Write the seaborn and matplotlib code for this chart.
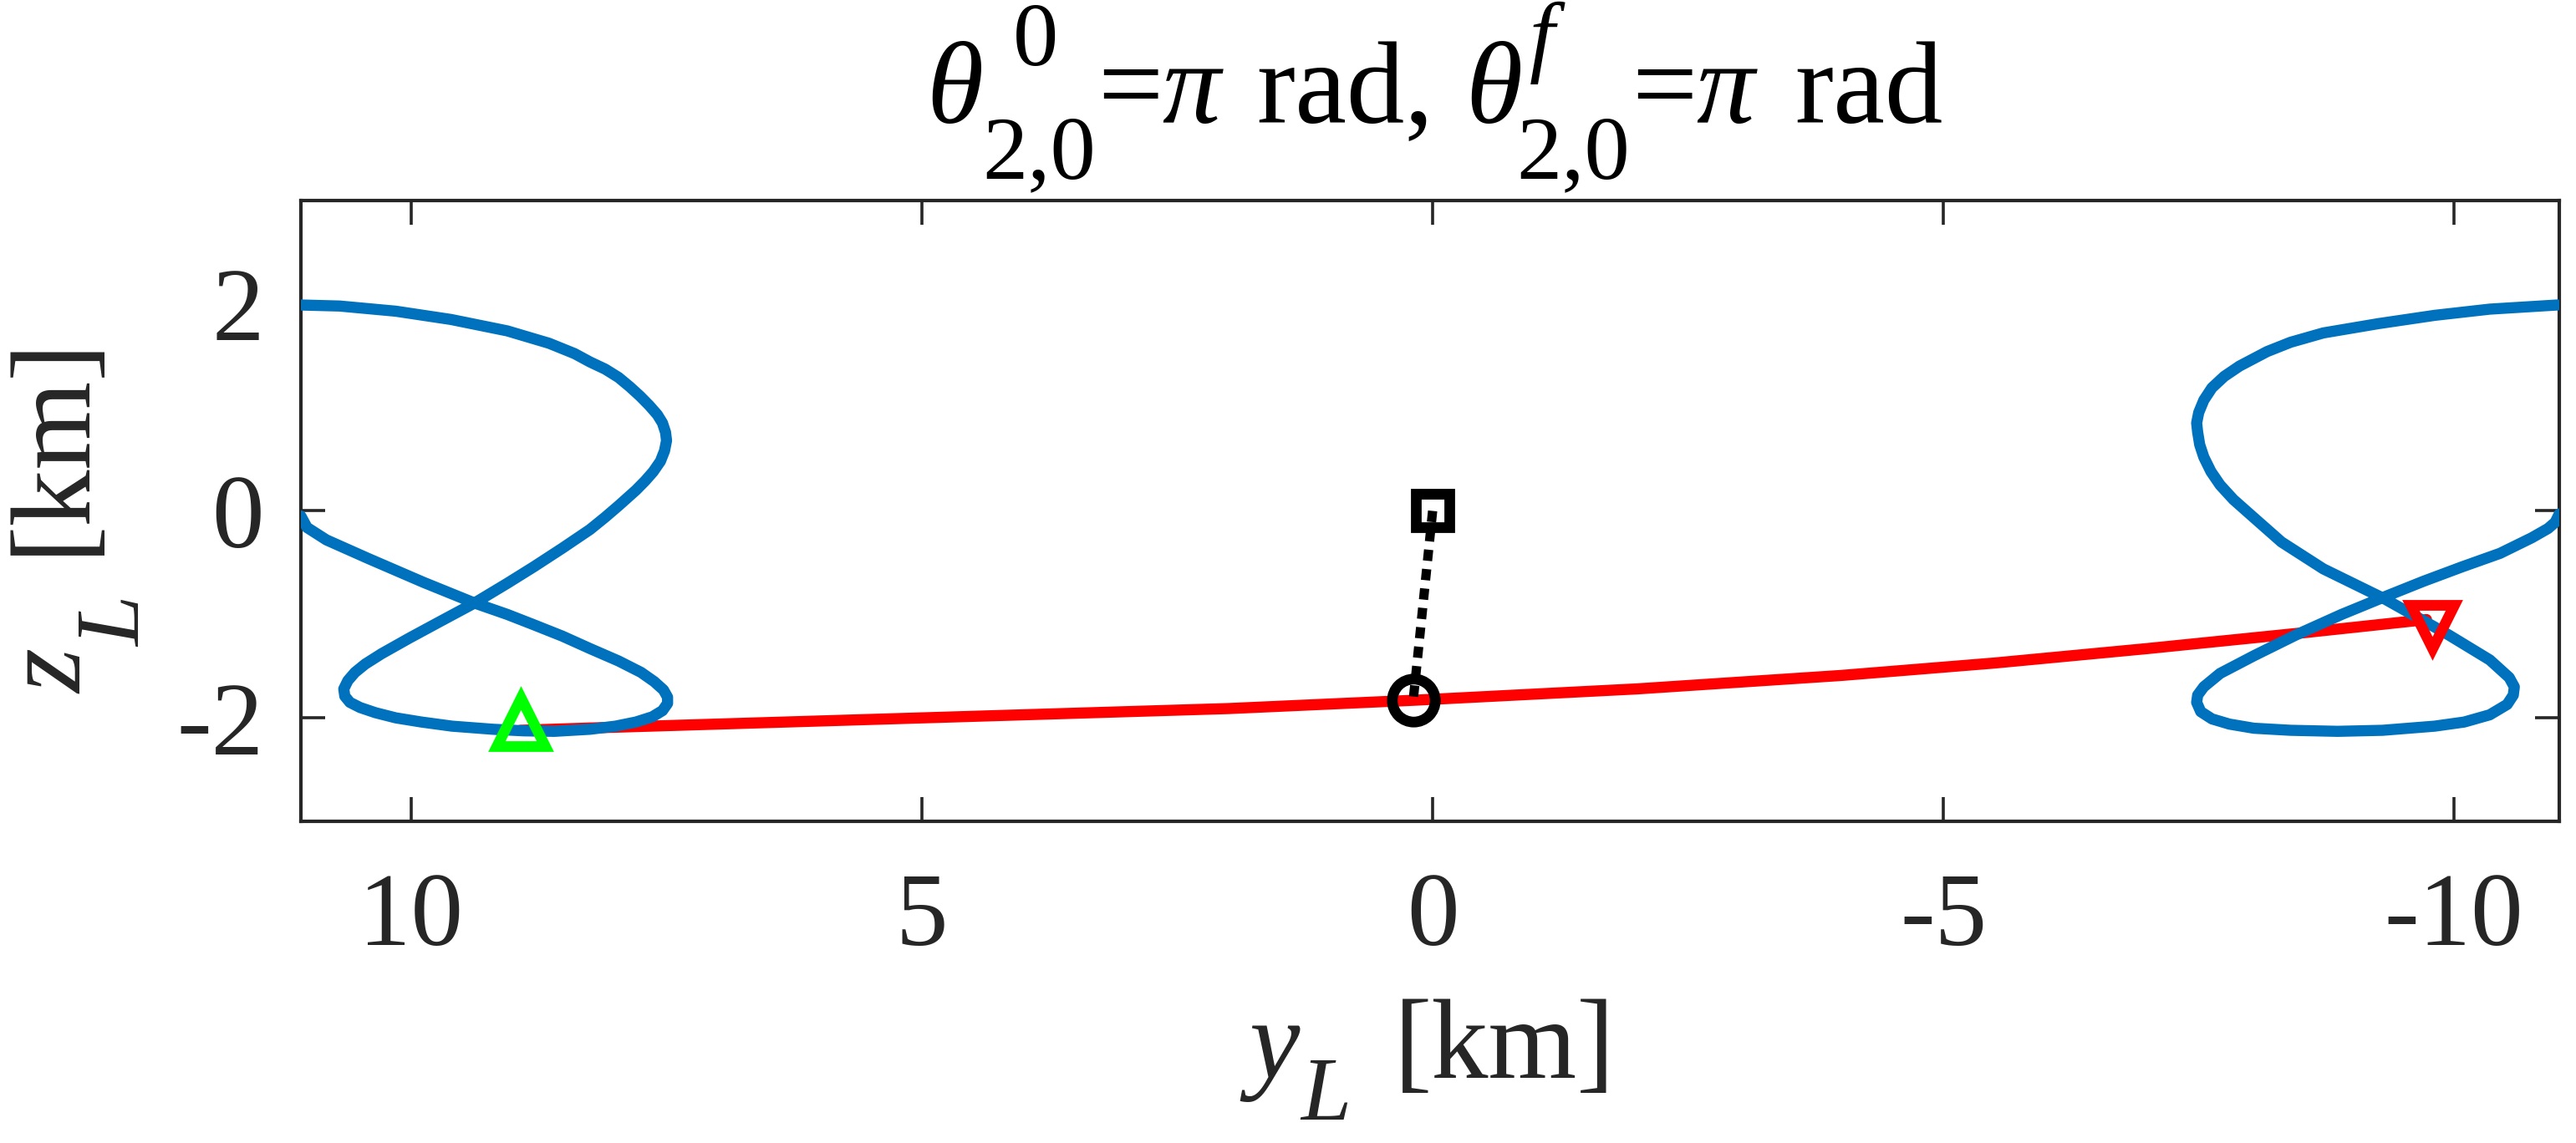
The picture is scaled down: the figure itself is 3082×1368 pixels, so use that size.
import numpy as np
import pandas as pd
import matplotlib
matplotlib.use("Agg")
import matplotlib.pyplot as plt
import seaborn as sns

# ---- data (y_L, z_L in km) ----
left_y = [11.08, 10.70, 10.15, 9.61, 9.06, 8.65, 8.40, 8.25, 8.10, 7.97, 7.86, 7.76,
          7.67, 7.59, 7.54, 7.51, 7.50, 7.52, 7.56, 7.63, 7.71, 7.80, 7.97, 8.10,
          8.25, 8.52, 8.80, 9.06, 9.38, 9.72, 10.02, 10.29, 10.45, 10.55, 10.62, 10.66,
          10.65, 10.60, 10.50, 10.35, 10.15, 9.90, 9.60, 9.20, 8.90, 8.60, 8.25, 8.00,
          7.80, 7.64, 7.54, 7.49, 7.49, 7.53, 7.62, 7.75, 7.97, 8.25, 8.52, 8.80,
          9.06, 9.38, 9.88, 10.42, 10.83, 11.02, 11.08]
left_z = [1.99, 1.98, 1.93, 1.85, 1.74, 1.62, 1.52, 1.44, 1.37, 1.29, 1.20, 1.11,
          1.02, 0.93, 0.85, 0.76, 0.68, 0.58, 0.48, 0.38, 0.29, 0.20, 0.05, -0.06,
          -0.18, -0.36, -0.54, -0.70, -0.89, -1.07, -1.23, -1.38, -1.48, -1.56, -1.64, -1.72,
          -1.79, -1.85, -1.90, -1.95, -2.00, -2.04, -2.08, -2.11, -2.125, -2.13, -2.11, -2.08,
          -2.04, -1.99, -1.93, -1.86, -1.80, -1.73, -1.65, -1.56, -1.45, -1.33, -1.21, -1.10,
          -1.00, -0.89, -0.69, -0.46, -0.28, -0.16, -0.05]

right_y = [-11.01, -10.35, -9.81, -9.26, -8.72, -8.40, -8.17, -7.90, -7.75, -7.63, -7.55,
           -7.50, -7.48, -7.49, -7.51, -7.55, -7.62, -7.71, -7.84, -8.00, -8.31, -8.72,
           -9.32, -9.95, -10.35, -10.54, -10.59, -10.58, -10.52, -10.35, -10.10, -9.81,
           -9.30, -8.86, -8.40, -8.04, -7.80, -7.63, -7.52, -7.48, -7.49, -7.55, -7.71,
           -8.04, -8.45, -8.90, -9.32, -9.70, -10.08, -10.45, -10.76, -10.92, -10.99, -11.03]
right_z = [1.99, 1.95, 1.89, 1.81, 1.72, 1.63, 1.54, 1.40, 1.30, 1.19, 1.07,
           0.95, 0.85, 0.76, 0.64, 0.52, 0.38, 0.25, 0.11, -0.03, -0.30, -0.56,
           -0.85, -1.20, -1.44, -1.61, -1.70, -1.78, -1.87, -1.97, -2.04, -2.08,
           -2.12, -2.13, -2.12, -2.10, -2.06, -2.01, -1.94, -1.85, -1.78, -1.70, -1.57,
           -1.40, -1.20, -1.00, -0.83, -0.68, -0.54, -0.41, -0.26, -0.17, -0.11, -0.03]

red_y = [8.93, 8.0, 6.0, 4.0, 2.0, 0.19, -2.0, -4.0, -5.5, -7.0, -8.5, -9.73]
red_z = [-2.12, -2.09, -2.03, -1.97, -1.91, -1.83, -1.72, -1.59, -1.47, -1.33, -1.18, -1.05]

link_y = [0.0, 0.19]
link_z = [0.0, -1.83]

start_pt = (8.93, -2.04)
end_pt = (-9.79, -1.12)
square_pt = (0.0, 0.0)
circle_pt = (0.19, -1.83)

x_ticks = [10, 5, 0, -5, -10]
y_ticks = [-2, 0, 2]

# ---- style ----
sns.set_theme(style="ticks")
plt.rcParams["font.family"] = ["Liberation Serif", "DejaVu Serif"]
plt.rcParams["axes.unicode_minus"] = False

W, H = 3082, 1368
fig, ax = plt.subplots(figsize=(W / 200, H / 200), dpi=200)
fig.subplots_adjust(left=0.1168, right=0.9935, bottom=0.2814, top=0.8246)

blue = "#0072BD"
dark = "#262626"
lw = 4.8

sns.lineplot(x=red_y, y=red_z, sort=False, estimator=None, color="#FF0000",
             linewidth=lw, ax=ax, zorder=2)
sns.lineplot(x=left_y, y=left_z, sort=False, estimator=None, color=blue,
             linewidth=lw, ax=ax, zorder=3)
sns.lineplot(x=right_y, y=right_z, sort=False, estimator=None, color=blue,
             linewidth=lw, ax=ax, zorder=3)
ax.plot(link_y, link_z, color="black", linewidth=4.0, linestyle=(0, (1.2, 0.9)),
        zorder=4)

mew = 4.6
ax.plot(*start_pt, marker="^", markersize=21, markeredgewidth=mew,
        markerfacecolor="none", markeredgecolor="#00FF00", zorder=5)
ax.plot(*end_pt, marker="v", markersize=19, markeredgewidth=mew,
        markerfacecolor="none", markeredgecolor="#FF0000", zorder=5)
ax.plot(*square_pt, marker="s", markersize=14.5, markeredgewidth=mew,
        markerfacecolor="none", markeredgecolor="black", zorder=5)
ax.plot(*circle_pt, marker="o", markersize=18.5, markeredgewidth=mew,
        markerfacecolor="none", markeredgecolor="black", zorder=5)

ax.set_xlim(11.08, -11.03)
ax.set_ylim(-3, 3)
ax.set_xticks(x_ticks)
ax.set_yticks(y_ticks)
ax.set_xticklabels([str(t) for t in x_ticks])
ax.set_yticklabels([str(t) for t in y_ticks])

ax.tick_params(direction="in", top=True, right=True, length=10.5, width=1.3,
               color=dark, labelcolor=dark, labelsize=45)
ax.tick_params(axis="x", pad=22)
ax.tick_params(axis="y", pad=16)
for s in ax.spines.values():
    s.set_visible(True)
    s.set_linewidth(1.5)
    s.set_color(dark)


# MATLAB-style labels: big sub/superscripts, placed piece by piece (pixel coords)
def piece(txt, x, y, size, style="normal", color=dark, rot=0):
    fig.text(x / W, 1 - y / H, txt, fontsize=size, style=style, color=color,
             ha="left", va="baseline", rotation=rot, rotation_mode="anchor")


# title
for txt, x, y, size, style in [
        ("θ", 1108, 147, 50, "italic"), ("0", 1212, 78, 39, "normal"),
        ("2,0", 1175, 213, 39, "normal"), ("=", 1313, 147, 50, "normal"),
        ("π", 1390, 147, 50, "italic"), ("rad,", 1503, 147, 50, "normal"),
        ("θ", 1753, 147, 50, "italic"), ("f", 1830, 78, 39, "italic"),
        ("2,0", 1814, 213, 39, "normal"), ("=", 1952, 147, 50, "normal"),
        ("π", 2029, 147, 50, "italic"), ("rad", 2147, 147, 50, "normal")]:
    piece(txt, x, y, size, style, color="black")

# x label
piece("y", 1494, 1290, 49, "italic")
piece("L", 1556, 1340, 39, "italic")
piece("[km]", 1668, 1290, 49)

# y label (rotated)
piece("z", 98, 830, 49, "italic", rot=90)
piece("L", 167, 774, 39, "italic", rot=90)
piece("[km]", 98, 664, 49, rot=90)

fig.savefig("out.png", dpi=200)
